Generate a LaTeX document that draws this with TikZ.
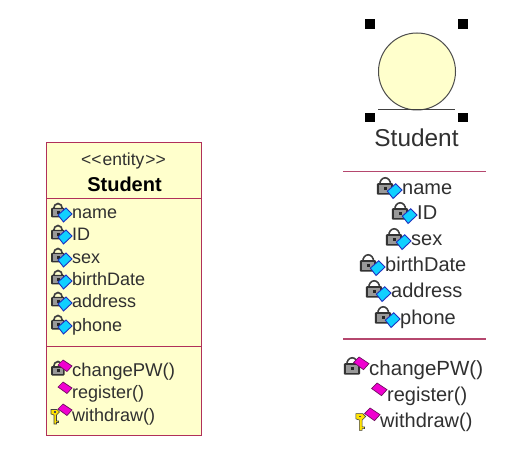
\documentclass[tikz,border=0pt]{standalone}
\usepackage{fontspec}
\setmainfont{Liberation Sans}
\definecolor{boxfill}{HTML}{FFFFCC}
\definecolor{boxline}{HTML}{B0305A}
\definecolor{sepline}{HTML}{B5476E}
\definecolor{txt}{HTML}{303030}
\definecolor{attrfill}{HTML}{10D0FF}
\definecolor{attredge}{HTML}{2030C0}
\definecolor{opfill}{HTML}{F000D0}
\definecolor{opedge}{HTML}{701060}
\tikzset{
  x=1pt,y=-1pt,
  labl/.style={anchor=base west,inner sep=0pt,text=txt,font=\fontsize{18}{18}\selectfont},
  labr/.style={anchor=base west,inner sep=0pt,text=txt,font=\fontsize{20}{20}\selectfont},
  handle/.style={fill=black,draw=none,minimum size=9.5pt,inner sep=0pt,rectangle},
  lockicon/.pic={
    \draw[line width=1.6pt,draw=black!75] (-18.5,-3) arc[start angle=180,end angle=360,x radius=4.5,y radius=5.5];
    \fill[black!80,rounded corners=1pt] (-21,-4) rectangle (-7.5,5.5);
    \fill[black!40] (-19.5,-2.5) rectangle (-9,4);
    \fill[black!85] (-15,-1) rectangle (-12.5,2);
  },
  attricon/.pic={
    \draw[draw=attredge,fill=attrfill,line width=.9pt] (-14,3) -- (-6,-4) -- (0,2) -- (-8.5,10) -- cycle;
  },
  opicon/.pic={
    \draw[draw=opedge,fill=opfill,line width=.7pt] (-14,-5) -- (-9,-10) -- (0,-4) -- (-5,1.5) -- cycle;
  },
  keyicon/.pic={
    \draw[draw=black!75,fill=yellow!85!orange,line width=.6pt]
      (-21,-5.5) -- (-15,-5.5) -- (-12.5,-3) -- (-15,-.5) -- (-15.5,0) -- (-15.5,6) -- (-13.5,6) -- (-13.5,7.5) -- (-15.5,7.5) -- (-15.5,9) -- (-18,9) -- (-18,0) -- (-21,-1) -- cycle;
    \fill[black!70] (-18.5,-3.8) rectangle (-16.5,-2.2);
  },
}
\begin{document}
\begin{tikzpicture}
\useasboundingbox[fill=white] (0,0) rectangle (514,462);
% left class box
\draw[draw=boxline,fill=boxfill,line width=1pt] (46,143) rectangle (201,435);
\draw[draw=boxline,line width=1pt] (46,198.5) -- (201,198.5);
\draw[draw=boxline,line width=1pt] (46,346) -- (201,346);
\node[anchor=base,inner sep=0pt,text=txt,font=\fontsize{17.5}{18}\selectfont] (stereo) at (123.5,166) {<{}<\kern1pt entity\kern1pt>{}>};
\node[anchor=base,inner sep=0pt,text=black,font=\fontsize{20}{20}\selectfont\bfseries] (lname) at (124.5,192) {Student};
\foreach \n/\t/\y in {a/name/212,b/ID/234,c/sex/257,d/birthDate/279,e/address/301,f/phone/324}{
  \pic at (72,\y) {lockicon};
  \pic at (72,\y) {attricon};
  \node[labl] (l\n) at (72,\y+7) {\t};
}
\pic at (72,370) {lockicon};
\pic at (72,370) {opicon};
\node[labl,font=\fontsize{18.5}{18}\selectfont] (lg) at (72,376.5) {changePW()};
\pic at (72,392) {opicon};
\node[labl] (lh) at (72,398.5) {register()};
\pic at (72,415) {keyicon};
\pic at (72,414) {opicon};
\node[labl] (li) at (72,421.5) {withdraw()};
% right entity symbol
\draw[draw=black!70,fill=boxfill,line width=1pt] (417,71.5) circle[radius=38.5];
\draw[draw=black!75,line width=1pt] (378,110) -- (455,110);
\node[handle] (h1) at (370,24) {};
\node[handle] (h2) at (463,24) {};
\node[handle] (h3) at (370,117.5) {};
\node[handle] (h4) at (463,117.5) {};
\node[anchor=base,inner sep=0pt,text=txt,font=\fontsize{24.4}{25}\selectfont] (rname) at (416.5,147) {Student};
\draw[draw=sepline,line width=1.2pt] (343,171.7) -- (486,171.7);
\draw[draw=sepline,line width=1.4pt] (343,339) -- (486,339);
\foreach \n/\t/\x/\y in {a/name/402/188,b/ID/417/213,c/sex/411/239,d/birthDate/385/265,e/address/391/291,f/phone/400/317}{
  \pic[scale=1.2] at (\x,\y) {lockicon};
  \pic[scale=1.05] at (\x,\y) {attricon};
  \node[labr] (r\n) at (\x,\y+7) {\t};
}
\pic[scale=1.2] at (369,368) {lockicon};
\pic[scale=1.1] at (369,368) {opicon};
\node[labr,font=\fontsize{20.5}{20}\selectfont] (rg) at (369,375) {changePW()};
\pic[scale=1.1] at (387,394) {opicon};
\node[labr] (rh) at (387,401) {register()};
\pic[scale=1.15] at (380,420) {keyicon};
\pic[scale=1.1] at (380,419) {opicon};
\node[labr] (ri) at (380,427) {withdraw()};
\end{tikzpicture}
\end{document}
